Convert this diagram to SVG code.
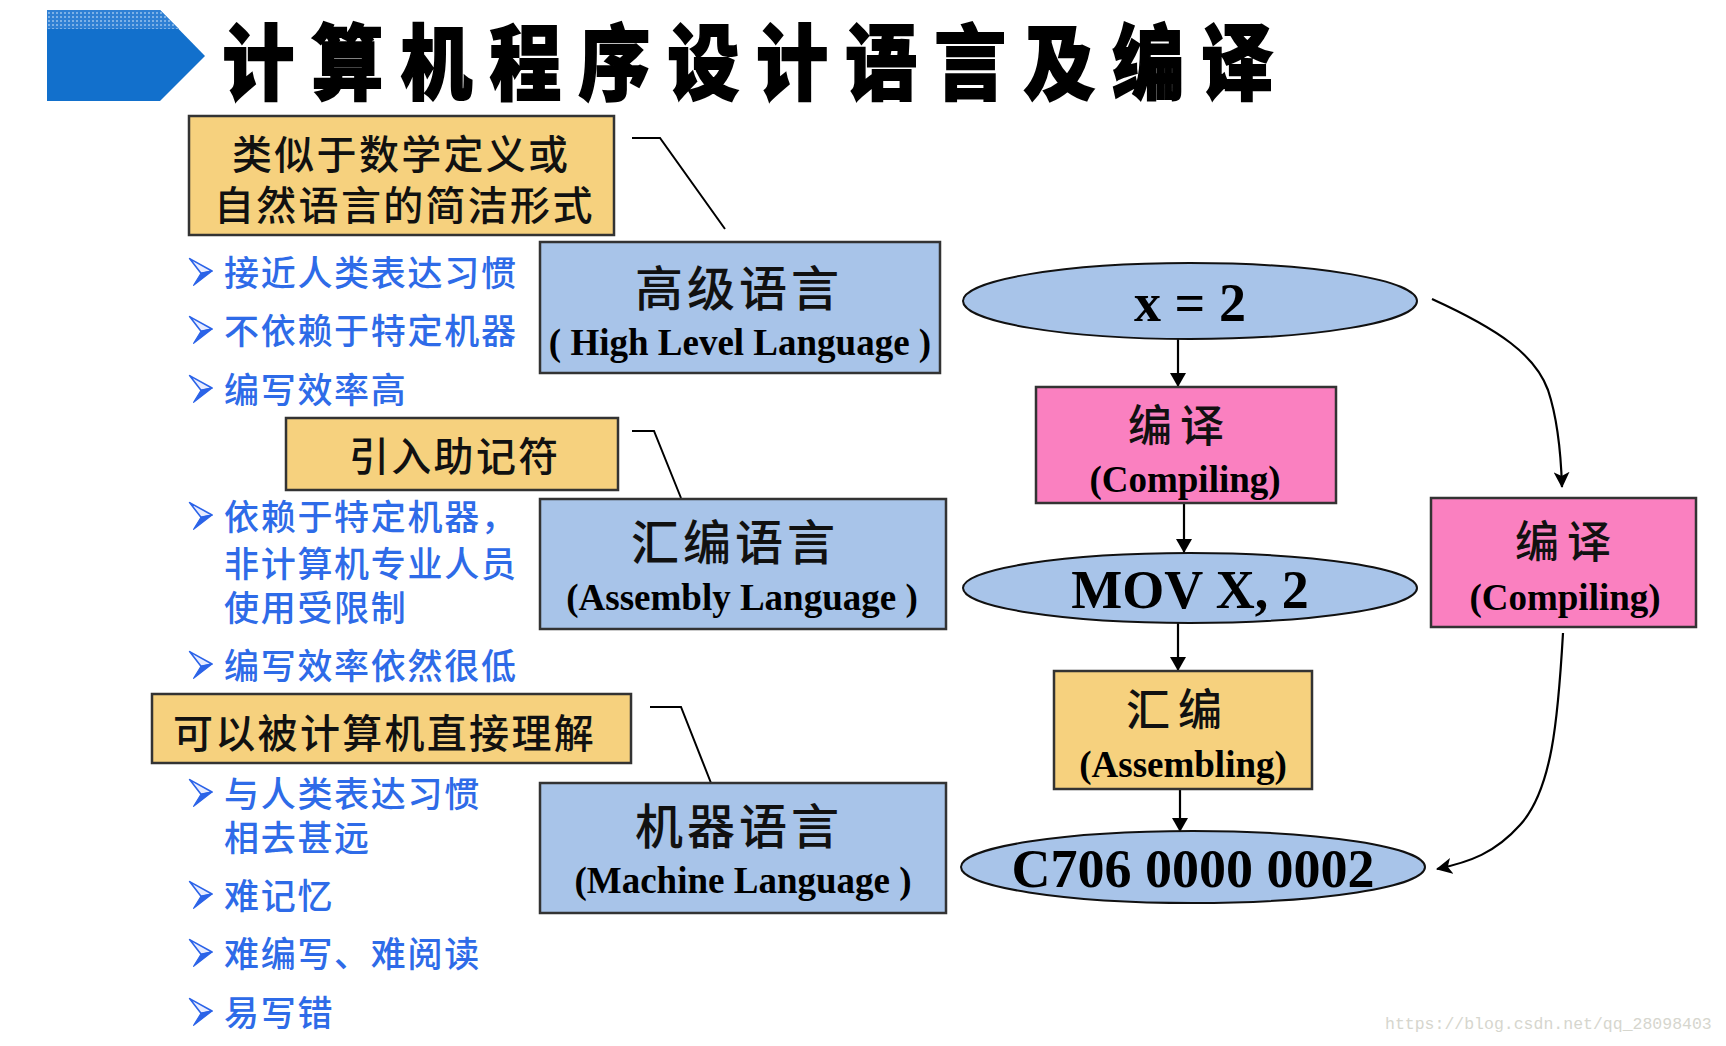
<svg xmlns="http://www.w3.org/2000/svg" width="1726" height="1046" viewBox="0 0 1726 1046">
<style>
.cjk{font-family:"Noto Sans CJK SC","Noto Sans",sans-serif}
.bul{font-family:"Noto Sans CJK SC",sans-serif;font-size:35px;letter-spacing:1.7px;fill:#2E6BE8;font-weight:500}
.note{font-family:"Noto Sans CJK SC",sans-serif;font-size:40px;letter-spacing:2.3px;fill:#111;font-weight:500}
.big{font-family:"Noto Sans CJK SC",sans-serif;font-size:48px;letter-spacing:4px;fill:#111;font-weight:500}
.sub{font-family:"Liberation Serif","Times New Roman",serif;font-size:37px;font-weight:bold;fill:#000;text-anchor:middle}
.step{font-family:"Noto Sans CJK SC",sans-serif;font-size:44px;letter-spacing:8px;fill:#111;font-weight:500}
.code{font-family:"Liberation Serif","Times New Roman",serif;font-size:54px;font-weight:bold;fill:#000;text-anchor:middle}
.yel{fill:#F6D17E;stroke:#333;stroke-width:2.5}
.blu{fill:#A8C4E9;stroke:#333;stroke-width:2.5}
.pnk{fill:#FA80C0;stroke:#333;stroke-width:2.5}
.ell{fill:#A8C4E9;stroke:#111;stroke-width:2}
.ln{fill:none;stroke:#000;stroke-width:2.2}
.lead{fill:none;stroke:#000;stroke-width:2}
</style>
<defs>
<marker id="ah" viewBox="0 0 14 16" refX="14" refY="8" markerWidth="14" markerHeight="16" markerUnits="userSpaceOnUse" orient="auto">
<path d="M0,0 L14,8 L0,16 Z" fill="#000"/>
</marker>
<marker id="sh" viewBox="0 0 16 16" refX="15" refY="8" markerWidth="16" markerHeight="16" markerUnits="userSpaceOnUse" orient="auto">
<path d="M0,0 L16,8 L0,16 L4,8 Z" fill="#000"/>
</marker>
<pattern id="dots" width="4" height="4" patternUnits="userSpaceOnUse">
<rect width="4" height="4" fill="#2F80D4"/>
<rect x="0" y="0" width="2" height="2" fill="#7DB1E6"/>
</pattern>
<g id="arr">
<path d="M-22.4,-12.4 L0,0 L-11,2.3 Z" fill="#E8ECFF" stroke="#2B63E8" stroke-width="1.6" stroke-linejoin="round"/>
<path d="M-11,2.3 L0,0 L-18.4,14.3 Z" fill="#2B63E8" stroke="#2B63E8" stroke-width="1.2" stroke-linejoin="round"/>
</g>
</defs>
<rect width="1726" height="1046" fill="#fff"/>

<g id="banner">
<polygon points="47,10 160,10 205,56 160,101 47,101" fill="#1270CC"/>
<polygon points="47,10 160,10 179,29 47,29" fill="url(#dots)"/>
</g>
<g id="title">
<text class="cjk" transform="matrix(0.875 0 0 1 226 0)" x="-4" y="93" font-size="82" font-weight="900" letter-spacing="19.7" fill="#000" stroke="#000" stroke-width="1.8">计算机程序设计语言及编译</text>
</g>

<g id="connectors">
<polyline class="lead" points="632,138 660,138 725,229"/>
<polyline class="lead" points="632,431 654,431 681,498"/>
<polyline class="lead" points="650,707 681,707 711,783"/>
<line class="ln" x1="1178" y1="339" x2="1178" y2="387" marker-end="url(#ah)"/>
<line class="ln" x1="1184" y1="503" x2="1184" y2="553" marker-end="url(#ah)"/>
<line class="ln" x1="1178" y1="623" x2="1178" y2="671" marker-end="url(#ah)"/>
<line class="ln" x1="1180" y1="789" x2="1180" y2="832" marker-end="url(#ah)"/>
<path class="ln" d="M1432,299 C1500,330 1535,355 1548,390 C1558,420 1561,455 1562,487" marker-end="url(#sh)"/>
<path class="ln" d="M1563,633 C1558,720 1552,790 1520,825 C1495,853 1470,862 1437,869" marker-end="url(#sh)"/>
</g>

<g id="note-high">
<rect class="yel" x="189" y="116" width="425" height="119"/>
<text class="note" x="232" y="169">类似于数学定义或</text>
<text class="note" x="214" y="220">自然语言的简洁形式</text>
</g>
<g id="note-asm">
<rect class="yel" x="286" y="418" width="332" height="72"/>
<text class="note" x="349" y="471">引入助记符</text>
</g>
<g id="note-mach">
<rect class="yel" x="152" y="694" width="479" height="69"/>
<text class="note" x="173" y="748">可以被计算机直接理解</text>
</g>

<g id="high-level">
<rect class="blu" x="540" y="242" width="400" height="131"/>
<text class="big" x="635" y="306">高级语言</text>
<text class="sub" x="740" y="355">( High Level Language )</text>
</g>
<g id="assembly">
<rect class="blu" x="540" y="499" width="406" height="130"/>
<text class="big" x="631" y="560">汇编语言</text>
<text class="sub" x="742" y="610">(Assembly Language )</text>
</g>
<g id="machine">
<rect class="blu" x="540" y="783" width="406" height="130"/>
<text class="big" x="635" y="844">机器语言</text>
<text class="sub" x="743" y="893">(Machine Language )</text>
</g>

<g id="bullets-high">
<use href="#arr" x="212" y="271"/>
<text class="bul" x="224" y="286">接近人类表达习惯</text>
<use href="#arr" x="212" y="329"/>
<text class="bul" x="224" y="344">不依赖于特定机器</text>
<use href="#arr" x="212" y="388"/>
<text class="bul" x="224" y="403">编写效率高</text>
</g>
<g id="bullets-asm">
<use href="#arr" x="212" y="515"/>
<text class="bul" x="224" y="530">依赖于特定机器，</text>
<text class="bul" x="224" y="577">非计算机专业人员</text>
<text class="bul" x="224" y="621">使用受限制</text>
<use href="#arr" x="212" y="664"/>
<text class="bul" x="224" y="679">编写效率依然很低</text>
</g>
<g id="bullets-mach">
<use href="#arr" x="212" y="792"/>
<text class="bul" x="224" y="807">与人类表达习惯</text>
<text class="bul" x="224" y="851">相去甚远</text>
<use href="#arr" x="212" y="894"/>
<text class="bul" x="224" y="909">难记忆</text>
<use href="#arr" x="212" y="952"/>
<text class="bul" x="224" y="967">难编写、难阅读</text>
<use href="#arr" x="212" y="1011"/>
<text class="bul" x="224" y="1026">易写错</text>
</g>

<g id="src">
<ellipse class="ell" cx="1190" cy="301" rx="227" ry="38"/>
<text class="code" x="1190" y="321">x = 2</text>
</g>
<g id="compile1">
<rect class="pnk" x="1036" y="387" width="300" height="116"/>
<text class="step" x="1128" y="442">编译</text>
<text class="sub" x="1185" y="492">(Compiling)</text>
</g>
<g id="asmcode">
<ellipse class="ell" cx="1190" cy="588" rx="227" ry="35"/>
<text class="code" x="1190" y="608" font-size="53">MOV X, 2</text>
</g>
<g id="assemble">
<rect class="yel" x="1054" y="671" width="258" height="118"/>
<text class="step" x="1126" y="726">汇编</text>
<text class="sub" x="1183" y="777">(Assembling)</text>
</g>
<g id="machcode">
<ellipse class="ell" cx="1193" cy="867" rx="232" ry="36"/>
<text class="code" x="1193" y="887" font-size="53">C706 0000 0002</text>
</g>
<g id="compile2">
<rect class="pnk" x="1431" y="498" width="265" height="129"/>
<text class="step" x="1515" y="558">编译</text>
<text class="sub" x="1565" y="610">(Compiling)</text>
</g>

<text x="1385" y="1029" font-family="Liberation Mono,monospace" font-size="16.5" fill="#D6D6CE">https://blog.csdn.net/qq_28098403</text>
</svg>
